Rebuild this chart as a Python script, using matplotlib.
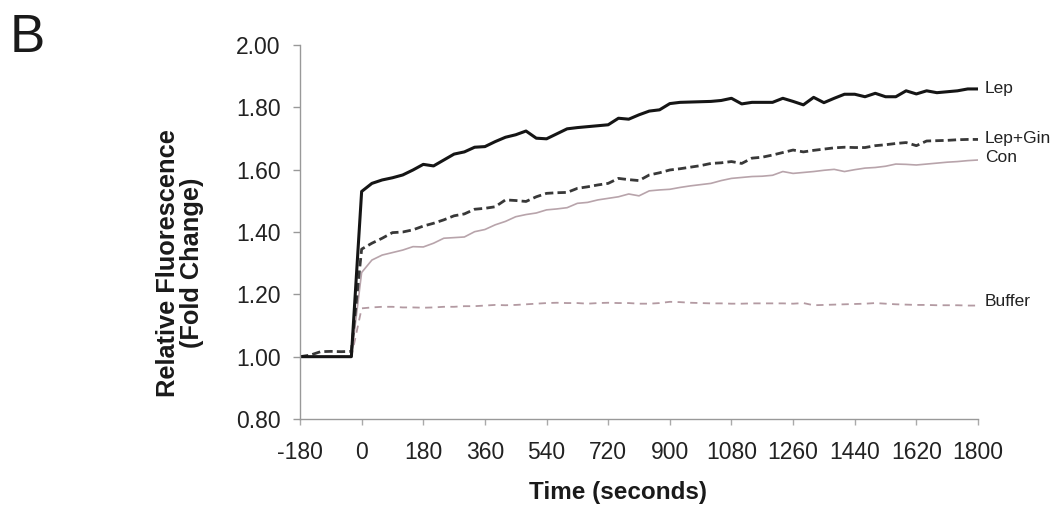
#!/usr/bin/env python3

import numpy as np
import matplotlib
matplotlib.use('Agg')
import matplotlib.pyplot as plt

plt.rcParams['font.family'] = ['Liberation Sans', 'DejaVu Sans']

# time in seconds, one reading every 30 s
time = np.arange(-180, 1801, 30)

baseline = [1.00, 1.00, 1.00, 1.00, 1.00, 1.00]

lep = baseline + [
    1.530, 1.556, 1.567, 1.574, 1.583, 1.599, 1.617, 1.612, 1.631, 1.650,
    1.657, 1.672, 1.674, 1.690, 1.704, 1.712, 1.724, 1.701, 1.699, 1.715,
    1.731, 1.735, 1.738, 1.741, 1.744, 1.765, 1.762, 1.776, 1.788, 1.792,
    1.812, 1.816, 1.817, 1.818, 1.819, 1.822, 1.829, 1.811, 1.816, 1.816,
    1.816, 1.829, 1.819, 1.808, 1.832, 1.815, 1.829, 1.842, 1.842, 1.834,
    1.845, 1.834, 1.834, 1.853, 1.843, 1.853, 1.847, 1.850, 1.853, 1.859,
    1.859]

lep_gin = [1.00, 1.005, 1.016, 1.017, 1.016, 1.017] + [
    1.345, 1.364, 1.380, 1.398, 1.400, 1.407, 1.419, 1.428, 1.439, 1.452,
    1.458, 1.473, 1.476, 1.481, 1.503, 1.501, 1.498, 1.513, 1.524, 1.526,
    1.527, 1.540, 1.545, 1.551, 1.556, 1.572, 1.568, 1.565, 1.583, 1.590,
    1.599, 1.603, 1.608, 1.613, 1.620, 1.622, 1.626, 1.620, 1.637, 1.640,
    1.647, 1.655, 1.663, 1.657, 1.662, 1.666, 1.670, 1.672, 1.671, 1.671,
    1.677, 1.680, 1.684, 1.687, 1.677, 1.692, 1.693, 1.694, 1.696, 1.697,
    1.697]

con = baseline + [
    1.270, 1.310, 1.326, 1.334, 1.342, 1.353, 1.352, 1.364, 1.380, 1.382,
    1.384, 1.401, 1.408, 1.423, 1.434, 1.449, 1.456, 1.461, 1.471, 1.474,
    1.478, 1.492, 1.495, 1.503, 1.508, 1.513, 1.522, 1.516, 1.532, 1.535,
    1.537, 1.543, 1.548, 1.552, 1.556, 1.565, 1.572, 1.575, 1.578, 1.579,
    1.582, 1.594, 1.588, 1.591, 1.594, 1.598, 1.601, 1.594, 1.600, 1.605,
    1.607, 1.611, 1.618, 1.617, 1.615, 1.618, 1.621, 1.624, 1.626, 1.629,
    1.631]

buffer = baseline + [
    1.155, 1.158, 1.160, 1.160, 1.158, 1.158, 1.157, 1.158, 1.160, 1.160,
    1.162, 1.162, 1.164, 1.166, 1.165, 1.166, 1.168, 1.170, 1.172, 1.173,
    1.172, 1.172, 1.170, 1.172, 1.173, 1.172, 1.172, 1.170, 1.170, 1.172,
    1.176, 1.175, 1.173, 1.172, 1.171, 1.171, 1.170, 1.170, 1.171, 1.171,
    1.171, 1.171, 1.170, 1.172, 1.165, 1.166, 1.167, 1.168, 1.169, 1.170,
    1.172, 1.170, 1.168, 1.167, 1.166, 1.166, 1.165, 1.165, 1.165, 1.164,
    1.164]

xticks = list(range(-180, 1801, 180))
yticks = [0.80, 1.00, 1.20, 1.40, 1.60, 1.80, 2.00]

fig = plt.figure(figsize=(10.53, 5.05), dpi=100)
ax = fig.add_axes([300/1053, 1-419/505, 678/1053, 374/505])

ax.plot(time, buffer, color='#b39aa2', lw=1.3, dashes=(4, 3))
ax.plot(time, con, color='#b8a4ab', lw=1.2)
ax.plot(time, lep_gin, color='#383838', lw=2.0, dashes=(3, 1.5))
ax.plot(time, lep, color='#151515', lw=2.2)

series = [('Lep', lep), ('Lep+Gin', lep_gin), ('Con', con), ('Buffer', buffer)]
nudge = {'Lep': 0, 'Lep+Gin': 1, 'Con': 2, 'Buffer': 3}
for name, vals in series:
    ax.annotate(name, (time[-1], vals[-1]), xytext=(5, nudge[name]),
                textcoords='offset points', va='center', ha='left',
                fontsize=12.5, color='#222222', annotation_clip=False)

ax.set_xlim(-180, 1800)
ax.set_ylim(0.8, 2.0)
ax.set_xticks(xticks)
ax.set_xticklabels([str(t) for t in xticks])
ax.set_yticks(yticks)
ax.set_yticklabels(['%.2f' % v for v in yticks])

for s in ['top', 'right']:
    ax.spines[s].set_visible(False)
for s in ['left', 'bottom']:
    ax.spines[s].set_color('#999999')
    ax.spines[s].set_linewidth(1.0)

ax.tick_params(axis='y', length=5, width=1, color='#999999', pad=9,
               labelsize=16.5, labelcolor='#222222')
ax.tick_params(axis='x', length=4, width=1, color='#aaaaaa', pad=12,
               labelsize=16.5, labelcolor='#222222')

fig.text(180/1053, 1-263/505, 'Relative Fluorescence\n(Fold Change)',
         rotation=90, ha='center', va='center', multialignment='center',
         fontsize=18.3, fontweight='bold', color='#1a1a1a', linespacing=1.05)
fig.text(618/1053, 1-492/505, 'Time (seconds)', ha='center', va='center',
         fontsize=17.5, fontweight='bold', color='#1a1a1a')
fig.text(10/1053, 1-52/505, 'B', ha='left', va='baseline',
         fontsize=38, color='#1a1a1a')

fig.savefig('out.png', dpi=100)
